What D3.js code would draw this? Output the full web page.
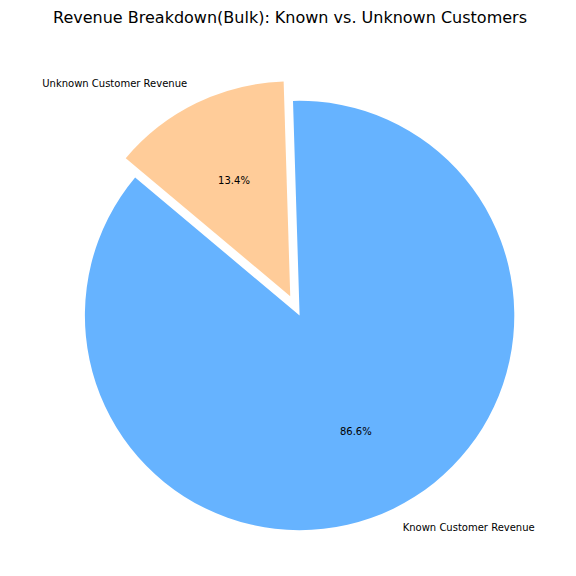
<!DOCTYPE html>
<html>
<head>
<meta charset="utf-8">
<script src="https://cdn.jsdelivr.net/npm/d3@7"></script>
<style>
  html, body { margin: 0; padding: 0; background: #fff; }
  svg { display: block; font-family: "DejaVu Sans", sans-serif; }
</style>
</head>
<body>
<svg id="chart" width="576" height="576"></svg>
<script>
const categories = ["Known Customer Revenue", "Unknown Customer Revenue"];
const values = [86.6, 13.4];
const colors = ["#66b3ff", "#ffcc99"];
const explode = [0, 0.1];
const title = "Revenue Breakdown(Bulk): Known vs. Unknown Customers";

const W = 576, H = 576;
const cx = 299.6, cy = 315.5, R = 214.7;
const startDeg = 140; // matplotlib-style start angle, counterclockwise

const svg = d3.select("#chart");

svg.append("text")
  .attr("x", 290).attr("y", 23)
  .attr("text-anchor", "middle")
  .attr("font-size", 16)
  .attr("fill", "#000")
  .text(title);

const toD3 = deg => (90 - deg) * Math.PI / 180;
const pie = d3.pie().sort(null)
  .startAngle(toD3(startDeg))
  .endAngle(toD3(startDeg) - 2 * Math.PI);
const arcs = pie(values);
const arc = d3.arc().innerRadius(0).outerRadius(R);
const total = d3.sum(values);

const g = svg.append("g").attr("transform", `translate(${cx},${cy})`);

arcs.forEach((a, i) => {
  const mid = (a.startAngle + a.endAngle) / 2;
  const ux = Math.sin(mid), uy = -Math.cos(mid);
  const ox = explode[i] * R * ux, oy = explode[i] * R * uy;
  const wg = g.append("g").attr("transform", `translate(${ox},${oy})`);
  wg.append("path").attr("d", arc(a)).attr("fill", colors[i]);
  wg.append("text")
    .attr("x", 1.1 * R * ux).attr("y", 1.1 * R * uy)
    .attr("text-anchor", ux >= 0 ? "start" : "end")
    .attr("dominant-baseline", "central")
    .attr("font-size", 10).attr("fill", "#000")
    .text(categories[i]);
  wg.append("text")
    .attr("x", 0.6 * R * ux).attr("y", 0.6 * R * uy)
    .attr("text-anchor", "middle")
    .attr("dominant-baseline", "central")
    .attr("font-size", 10).attr("fill", "#000")
    .text((values[i] / total * 100).toFixed(1) + "%");
});
</script>
</body>
</html>
